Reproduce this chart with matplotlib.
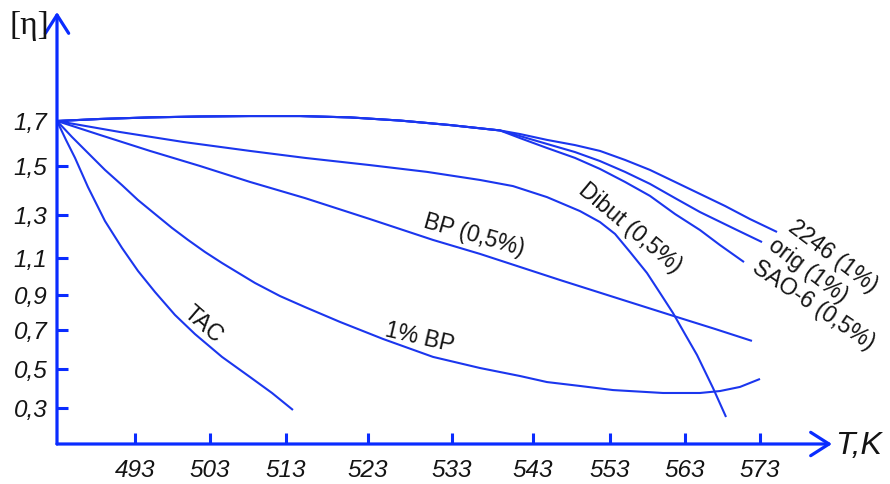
import numpy as np
import matplotlib
matplotlib.use("Agg")
import matplotlib.pyplot as plt

# ---------------- data (T in K, intrinsic viscosity [η]) ----------------
x_ticks = [493, 503, 513, 523, 533, 543, 553, 563, 573]
y_ticks = [0.3, 0.5, 0.7, 0.9, 1.1, 1.3, 1.5, 1.7]
y_tick_labels = ["0,3", "0,5", "0,7", "0,9", "1,1", "1,3", "1,5", "1,7"]

# common initial part of the three upper curves
T_common = [483, 488.51, 495.00, 501.67, 508.26, 514.71, 520.80, 526.81, 532.76, 538.93]
eta_common = [1.700, 1.709, 1.716, 1.720, 1.722, 1.722, 1.716, 1.702, 1.682, 1.658]

T_2246 = T_common + [541.40, 544.82, 548.45, 551.70, 555.00, 558.33, 561.67, 565.00, 568.33, 571.67, 575.27]
eta_2246 = eta_common + [1.642, 1.616, 1.593, 1.567, 1.527, 1.484, 1.435, 1.386, 1.337, 1.281, 1.221]

T_orig = T_common + [541.40, 544.82, 548.45, 551.70, 555.00, 558.33, 561.67, 565.00, 569.93, 573.27]
eta_orig = eta_common + [1.633, 1.598, 1.562, 1.522, 1.476, 1.427, 1.369, 1.312, 1.230, 1.174]

T_sao = T_common + [541.40, 544.82, 548.45, 551.70, 555.00, 558.33, 561.67, 565.00, 567.67, 570.87]
eta_sao = eta_common + [1.624, 1.580, 1.536, 1.488, 1.435, 1.378, 1.304, 1.230, 1.160, 1.078]

T_dibut = [483, 491.08, 499.40, 508.26, 515.32, 523.24, 530.02, 536.46, 540.53, 544.82, 549.10,
           551.70, 553.67, 555.67, 557.93, 559.67, 561.40, 563.00, 564.60, 566.73, 568.47]
eta_dibut = [1.700, 1.651, 1.607, 1.567, 1.536, 1.504, 1.476, 1.443, 1.418, 1.373, 1.316,
             1.267, 1.212, 1.128, 1.019, 0.911, 0.797, 0.679, 0.572, 0.403, 0.250]

T_bp05 = [483, 488.51, 495.00, 501.67, 508.26, 515.32, 523.24, 530.74, 536.46, 546.51, 554.33, 561.93, 567.00, 571.93]
eta_bp05 = [1.700, 1.638, 1.567, 1.500, 1.435, 1.369, 1.281, 1.184, 1.119, 0.981, 0.877, 0.774, 0.706, 0.644]

T_bp1 = [483, 484.92, 486.97, 489.15, 491.33, 493.40, 495.67, 497.93, 500.07, 502.33, 504.58, 506.95, 508.92,
         512.21, 515.32, 519.59, 524.79, 530.74, 536.46, 541.40, 544.82, 549.10, 553.40, 560.07, 565.00,
         567.67, 570.33, 573.00]
eta_bp1 = [1.700, 1.629, 1.558, 1.484, 1.422, 1.361, 1.304, 1.240, 1.184, 1.128, 1.073, 1.014, 0.965,
           0.894, 0.831, 0.746, 0.654, 0.562, 0.505, 0.464, 0.433, 0.413, 0.392, 0.377, 0.377,
           0.387, 0.408, 0.449]

T_tac = [483, 484.15, 485.31, 486.97, 489.15, 491.33, 493.40, 495.67, 498.33, 501.00, 504.58, 508.26, 511.16, 513.85]
eta_tac = [1.700, 1.616, 1.536, 1.414, 1.272, 1.147, 1.030, 0.916, 0.786, 0.679, 0.562, 0.459, 0.377, 0.289]

series = [
    (T_2246, eta_2246), (T_orig, eta_orig), (T_sao, eta_sao), (T_dibut, eta_dibut),
    (T_bp05, eta_bp05), (T_bp1, eta_bp1), (T_tac, eta_tac),
]

# ---------------- hand-drawn (non-uniform) axis calibration ----------------
X_CAL_V = np.array([483, 493, 503, 513, 523, 533, 543, 553, 563, 573, 583], float)
X_CAL_P = np.array([57, 135, 210, 286, 368, 452, 533, 610, 685, 760, 835], float)
Y_CAL_V = np.array([0.1, 0.3, 0.5, 0.7, 0.9, 1.1, 1.3, 1.5, 1.7, 1.9, 2.1, 2.3], float)
Y_CAL_P = np.array([444, 408, 369, 330, 295, 258, 215, 166, 121, 76, 31, -14], float)


def fx(v):
    return np.interp(v, X_CAL_V, X_CAL_P)


def fx_inv(p):
    return np.interp(p, X_CAL_P, X_CAL_V)


def fy(v):
    return -np.interp(v, Y_CAL_V, Y_CAL_P)


def fy_inv(u):
    return np.interp(-np.asarray(u), Y_CAL_P[::-1], Y_CAL_V[::-1])


AX_L, AX_R, AX_B, AX_T = 57, 832, 444, 12
W, H = 890, 484

AXIS_C = "#0a2cff"
LINE_C = "#1b36ee"
TXT_C = "#141414"

fig = plt.figure(figsize=(W / 100, H / 100), dpi=100)
ax = fig.add_axes([AX_L / W, (H - AX_B) / H, (AX_R - AX_L) / W, (AX_B - AX_T) / H])
ax.set_xscale("function", functions=(fx, fx_inv))
ax.set_yscale("function", functions=(fy, fy_inv))
ax.set_xlim(483, float(fx_inv(AX_R)))
ax.set_ylim(0.1, float(fy_inv(-AX_T)))
ax.patch.set_visible(False)
for s in ax.spines.values():
    s.set_visible(False)

for T, e in series:
    ax.plot(T, e, color=LINE_C, lw=1.5, solid_capstyle="butt", solid_joinstyle="round", clip_on=False)

# ticks
tick_font = dict(family="Liberation Sans", style="italic", size=17.5)
ax.set_xticks(x_ticks)
ax.set_xticklabels([str(t) for t in x_ticks], fontdict=tick_font, color=TXT_C)
ax.set_yticks(y_ticks)
ax.set_yticklabels(y_tick_labels, fontdict=tick_font, color=TXT_C)
ax.xaxis.set_minor_locator(matplotlib.ticker.NullLocator())
ax.yaxis.set_minor_locator(matplotlib.ticker.NullLocator())
ax.tick_params(axis="both", direction="in", length=8, width=2.2, color=AXIS_C)
ax.tick_params(axis="x", pad=11)
ax.tick_params(axis="y", pad=7)

# axes with arrows
arrow_kw = dict(arrowstyle="->,head_length=0.55,head_width=0.35", lw=2.3, color=AXIS_C,
                shrinkA=0, shrinkB=0, mutation_scale=24)
ax.annotate("", xy=(0, 1), xytext=(0, 0), xycoords="axes fraction",
            textcoords="axes fraction", arrowprops=arrow_kw, annotation_clip=False)
ax.annotate("", xy=(1, 0), xytext=(0, 0), xycoords="axes fraction",
            textcoords="axes fraction", arrowprops=arrow_kw, annotation_clip=False)

# axis titles
fig.text(859 / W, 1 - 446 / H, "T,K", family="Liberation Sans", style="italic", size=23,
         ha="center", va="center", color=TXT_C)
fig.text(29 / W, 1 - 26 / H, "[η]", family="Liberation Serif", size=24,
         ha="center", va="center", color=TXT_C)

# curve labels
labels = [
    ("TAC", 203, 324, -41),
    ("1% BP", 420, 338, -13),
    ("BP (0,5%)", 474, 235, -16),
    ("Dibut (0,5%)", 630, 228, -40),
    ("2246 (1%)", 833, 256, -37),
    ("orig (1%)", 808, 271, -37),
    ("SAO-6 (0,5%)", 813, 305, -34),
]
for txt, px, py, rot in labels:
    fig.text(px / W, 1 - py / H, txt, family="Liberation Sans", size=16.5, rotation=rot,
             rotation_mode="anchor", ha="center", va="center", color=TXT_C)

fig.savefig("out.png", dpi=100)
